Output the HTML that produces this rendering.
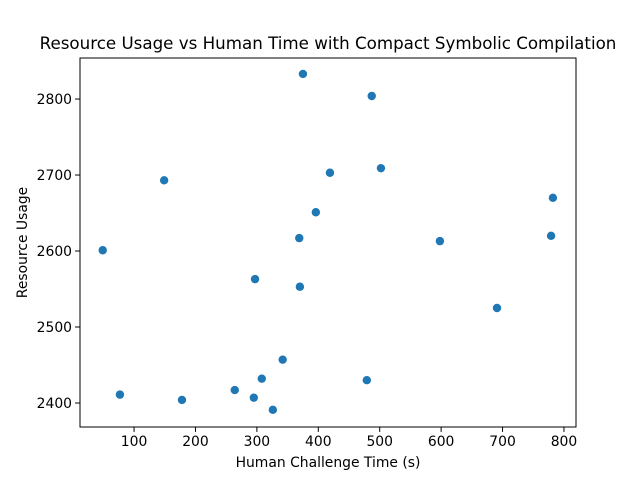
<!DOCTYPE html>
<html><head><meta charset="utf-8"><style>
body{margin:0;background:#fff;}
svg{display:block;font-family:"DejaVu Sans","Liberation Sans",sans-serif;}
</style></head><body>
<svg id="chart" width="640" height="480">
<rect width="640" height="480" fill="#fff"/>
<text x="328" y="49" text-anchor="middle" font-size="16.7" fill="#000">Resource Usage vs Human Time with Compact Symbolic Compilation</text>
<g id="points"></g>
<g id="xaxis"></g>
<g id="yaxis"></g>
<rect x="80" y="58" width="496" height="369" fill="none" stroke="#000" stroke-width="1"/>
<text x="328" y="467" text-anchor="middle" font-size="13.9">Human Challenge Time (s)</text>
<text transform="translate(27,242.5) rotate(-90)" text-anchor="middle" font-size="13.9">Resource Usage</text>
</svg>
<script>
const xValues=[375,487,502,419,149,782,396,369,779,598,49,297,370,691,342,308,479,264,77,178,295,326];
const yValues=[2833,2804,2709,2703,2693,2670,2651,2617,2620,2613,2601,2563,2553,2525,2457,2432,2430,2417,2411,2404,2407,2391];
const xTicks=[100,200,300,400,500,600,700,800];
const yTicks=[2400,2500,2600,2700,2800];
const L=80,R=576,T=58,B=427;
const xMin=12,xMax=819.6,yMin=2368.4,yMax=2854;
const sx=v=>L+(v-xMin)/(xMax-xMin)*(R-L);
const sy=v=>B-(v-yMin)/(yMax-yMin)*(B-T);
const NS="http://www.w3.org/2000/svg";
const pts=document.getElementById('points');
xValues.forEach((x,i)=>{
  const c=document.createElementNS(NS,'circle');
  c.setAttribute('cx',sx(x));c.setAttribute('cy',sy(yValues[i]));c.setAttribute('r',4.2);c.setAttribute('fill','#1f77b4');
  
  
  pts.appendChild(c);
});
const xa=document.getElementById('xaxis');
xTicks.forEach(t=>{
  const l=document.createElementNS(NS,'line');
  l.setAttribute('x1',sx(t));l.setAttribute('x2',sx(t));l.setAttribute('y1',B);l.setAttribute('y2',B+4.9);l.setAttribute('stroke','#000');
  
  
  xa.appendChild(l);
  const tx=document.createElementNS(NS,'text');
  tx.setAttribute('x',sx(t));tx.setAttribute('y',B+19);tx.setAttribute('text-anchor','middle');tx.setAttribute('font-size','13.9');
  tx.textContent=t;
  
  
  xa.appendChild(tx);
});
const ya=document.getElementById('yaxis');
yTicks.forEach(t=>{
  const l=document.createElementNS(NS,'line');
  l.setAttribute('x1',L-4.9);l.setAttribute('x2',L);l.setAttribute('y1',sy(t));l.setAttribute('y2',sy(t));l.setAttribute('stroke','#000');
  
  
  ya.appendChild(l);
  const tx=document.createElementNS(NS,'text');
  tx.setAttribute('x',L-8);tx.setAttribute('y',sy(t)+5);tx.setAttribute('text-anchor','end');tx.setAttribute('font-size','13.9');
  tx.textContent=t;
  
  
  ya.appendChild(tx);
});
</script>
</body></html>
